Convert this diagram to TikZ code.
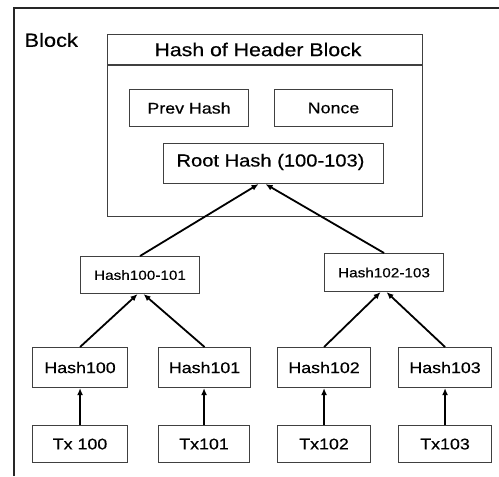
\documentclass[tikz,border=0pt]{standalone}
\usepackage{fontspec}
\setmainfont{Liberation Sans}[FakeStretch=1.15,FakeBold=0.4]
\usetikzlibrary{arrows.meta}
\begin{document}
\begin{tikzpicture}[x=1pt,y=-1pt,
  box/.style={draw=black!75,line width=1.1pt,inner sep=0pt,anchor=north west},
  arr/.style={line width=1.8pt,-{Latex[length=7pt,width=6pt]}},
  lbl/.style={font=\fontsize{15.5}{18}\selectfont},
  small/.style={font=\fontsize{13.3}{15}\selectfont}]
\useasboundingbox (0,0) rectangle (499,477);
\fill[white] (0,0) rectangle (499,477);
% outer frame (top and left)
\draw[line width=1.2pt,black!85] (14,476) -- (14,8) -- (499,8);
\node[anchor=west,font=\fontsize{19}{22}\selectfont] (blk) at (21,40) {Block};
% header block
\node[box,minimum width=315pt,minimum height=182pt] (hdr) at (107,34) {};
\draw[line width=1.1pt,black!75] (107,65) -- (422,65);
\node[font=\fontsize{18.5}{21}\selectfont] (title) at (258,49.5) {Hash of Header Block};
\node[box,lbl,minimum width=119pt,minimum height=37pt] (prev) at (129,89) {Prev Hash};
\node[box,lbl,minimum width=118pt,minimum height=37pt] (nonce) at (274,89) {Nonce};
\node[box,minimum width=220pt,minimum height=40pt] (root) at (163,143) {};
\node[anchor=west,font=\fontsize{17.5}{20}\selectfont] (roottxt) at (173,162) {Root Hash (100-103)};
% level 2
\node[box,small,minimum width=119pt,minimum height=37pt] (h0) at (80,256) {Hash100-101};
\node[box,small,minimum width=119pt,minimum height=38pt] (h1) at (324,253) {Hash102-103};
% level 3
\node[box,lbl,minimum width=95pt,minimum height=40pt] (a0) at (32,347) {Hash100};
\node[box,lbl,minimum width=92pt,minimum height=40pt] (a1) at (158,347) {Hash101};
\node[box,lbl,minimum width=93pt,minimum height=40pt] (a2) at (277,347) {Hash102};
\node[box,lbl,minimum width=93pt,minimum height=40pt] (a3) at (398,347) {Hash103};
% transactions
\node[box,lbl,minimum width=95pt,minimum height=37pt] (t0) at (32,425) {Tx 100};
\node[box,lbl,minimum width=91pt,minimum height=37pt] (t1) at (158,425) {Tx101};
\node[box,lbl,minimum width=93pt,minimum height=37pt] (t2) at (277,425) {Tx102};
\node[box,lbl,minimum width=93pt,minimum height=37pt] (t3) at (398,425) {Tx103};
% arrows
\draw[arr] (h0.north) -- ([xshift=-15pt]root.south);
\draw[arr] (h1.north) -- ([xshift=-8pt]root.south);
\draw[arr] (a0.north) -- ([xshift=-2.5pt]h0.south);
\draw[arr] (a1.north) -- ([xshift=3.5pt]h0.south);
\draw[arr] (a2.north) -- ([xshift=-3.5pt]h1.south);
\draw[arr] (a3.north) -- ([xshift=2.5pt]h1.south);
\draw[arr] (t0.north) -- (a0.south);
\draw[arr] (t1.north) -- (t1.north |- a1.south);
\draw[arr] (t2.north) -- (a2.south);
\draw[arr] (t3.north) -- (a3.south);
\end{tikzpicture}
\end{document}
